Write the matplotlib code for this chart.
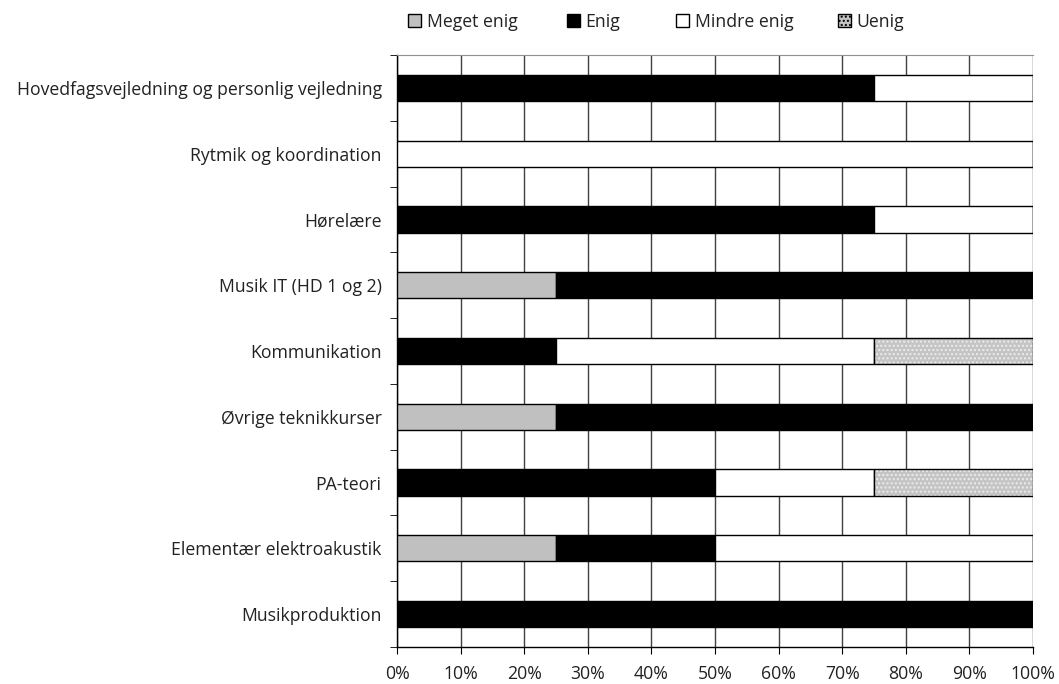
import matplotlib.pyplot as plt
import numpy as np
from matplotlib.patches import Patch

kategorier = ['Hovedfagsvejledning og personlig vejledning', 'Rytmik og koordination',
              'Hørelære', 'Musik IT (HD 1 og 2)', 'Kommunikation', 'Øvrige teknikkurser',
              'PA-teori', 'Elementær elektroakustik', 'Musikproduktion']
meget_enig = [0, 0, 0, 25, 0, 25, 0, 25, 0]
enig = [75, 0, 75, 75, 25, 75, 50, 25, 100]
mindre_enig = [25, 100, 25, 0, 50, 0, 25, 50, 0]
uenig = [0, 0, 0, 0, 25, 0, 25, 0, 0]

plt.rcParams['font.family'] = ['Open Sans', 'DejaVu Sans']
plt.rcParams['font.size'] = 12.7
plt.rcParams['text.color'] = '#222222'
plt.rcParams['xtick.labelcolor'] = '#222222'
plt.rcParams['ytick.labelcolor'] = '#222222'

fig = plt.figure(figsize=(10.59, 6.84), dpi=100)
ax = fig.add_axes([0.3749, 0.0541, 0.6005, 0.8655])

y = np.arange(len(kategorier))[::-1]
h = 0.4
venstre = np.zeros(len(kategorier))
ax.barh(y, meget_enig, h, left=venstre, color='#c0c0c0', edgecolor='black', linewidth=1, zorder=3)
venstre += meget_enig
ax.barh(y, enig, h, left=venstre, color='black', edgecolor='black', linewidth=1, zorder=3)
venstre += enig
ax.barh(y, mindre_enig, h, left=venstre, color='white', edgecolor='black', linewidth=1, zorder=3)
venstre += mindre_enig
# prikket grå for Uenig
ax.barh(y, uenig, h, left=venstre, color='#c4c4c4', edgecolor='#ececec', hatch='....', linewidth=0, zorder=3)
ax.barh(y, uenig, h, left=venstre, fill=False, edgecolor='black', linewidth=1, zorder=4)

ax.set_xlim(0, 100)
ax.set_ylim(-0.5, len(kategorier) - 0.5)
ax.set_xticks(np.arange(0, 101, 10))
ax.set_xticklabels([f'{v}%' for v in range(0, 101, 10)])
ax.set_yticks(y)
ax.set_yticklabels(kategorier)
ax.set_yticks(np.arange(-0.5, len(kategorier), 1), minor=True)
ax.tick_params(axis='y', which='major', length=0, pad=11)
ax.tick_params(axis='y', which='minor', length=5, direction='out')
ax.tick_params(axis='x', length=5, direction='out', pad=8)
ax.grid(axis='x', color='#404040', linewidth=1, zorder=0)
ax.spines['right'].set_visible(False)
ax.spines['top'].set_color('#909090')
for s in ['left', 'bottom']:
    ax.spines[s].set_linewidth(1)

handles = [Patch(facecolor='#c0c0c0', edgecolor='black'),
           Patch(facecolor='black', edgecolor='black'),
           Patch(facecolor='white', edgecolor='black'),
           Patch(facecolor='#c4c4c4', edgecolor='black', hatch='....')]
navne = ['Meget enig', 'Enig', 'Mindre enig', 'Uenig']
legend_x = [408, 567, 676, 838]
for hd, navn, lx in zip(handles, navne, legend_x):
    lg = fig.legend([hd], [navn], loc='center left', bbox_to_anchor=(lx / 1059, 1 - 22 / 684),
                    frameon=False, handlelength=0.75, handleheight=0.75, handletextpad=0.3,
                    borderpad=0, borderaxespad=0)

plt.savefig('out.png', dpi=100)
